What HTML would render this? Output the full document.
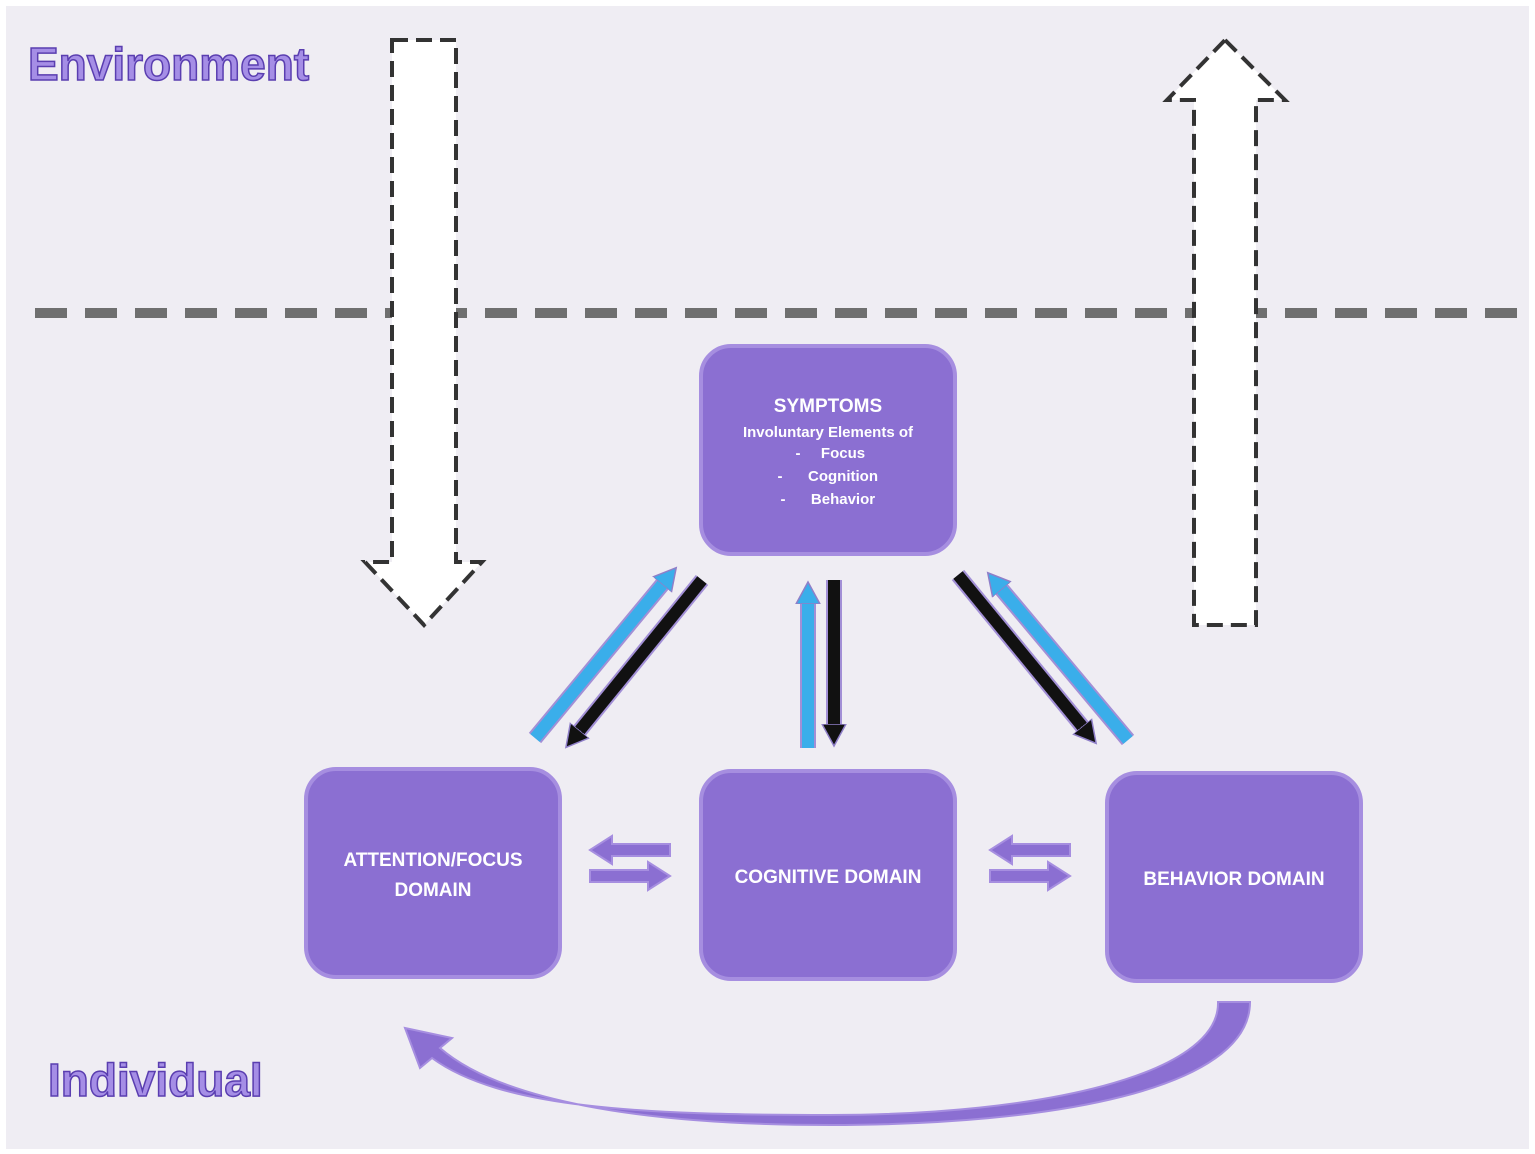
<!DOCTYPE html>
<html><head><style>
body{margin:0;width:1535px;height:1154px;background:#fff;overflow:hidden}
svg{display:block}
</style></head><body>
<svg width="1535" height="1154" viewBox="0 0 1535 1154" xmlns="http://www.w3.org/2000/svg" font-family="Liberation Sans, sans-serif">
<defs>
<marker id="hb" markerUnits="userSpaceOnUse" markerWidth="30" markerHeight="30" refX="6" refY="15" orient="auto"><path d="M0,3 L22,15 L0,27 z" fill="#3aaeea" stroke="#8f7fc8" stroke-width="1.5"/></marker>
<marker id="hk" markerUnits="userSpaceOnUse" markerWidth="30" markerHeight="30" refX="6" refY="15" orient="auto"><path d="M0,3 L22,15 L0,27 z" fill="#111" stroke="#8f7fc8" stroke-width="1.5"/></marker>
</defs>
<rect x="6" y="6" width="1523" height="1143" fill="#efedf3"/>
<text x="28" y="80" font-size="46" font-weight="bold" fill="#a58ee6" stroke="#5a3eb0" stroke-width="1.5">Environment</text>
<text x="48" y="1096" font-size="46" font-weight="bold" fill="#a58ee6" stroke="#5a3eb0" stroke-width="1.5">Individual</text>
<line x1="35" y1="313" x2="1530" y2="313" stroke="#6f6f6f" stroke-width="10" stroke-dasharray="32,18"/>
<path d="M392,40 L456,40 L456,562 L482,562 L424,625 L365,562 L392,562 Z" fill="#fff" stroke="#333" stroke-width="4" stroke-dasharray="16,8"/>
<path d="M1225,40 L1285,100 L1256,100 L1256,625 L1194,625 L1194,100 L1167,100 Z" fill="#fff" stroke="#333" stroke-width="4" stroke-dasharray="16,8"/>
<g fill="#8b6fd2" stroke="#a68ee0" stroke-width="4">
<rect x="701" y="346" width="254" height="208" rx="30"/>
<rect x="306" y="769" width="254" height="208" rx="30"/>
<rect x="701" y="771" width="254" height="208" rx="30"/>
<rect x="1107" y="773" width="254" height="208" rx="30"/>
</g>
<g fill="#fff" text-anchor="middle" font-weight="bold">
<text x="828" y="412" font-size="19">SYMPTOMS</text>
<text x="828" y="437" font-size="15">Involuntary Elements of</text>
<text x="798" y="458" font-size="15">-</text><text x="843" y="458" font-size="15">Focus</text>
<text x="780" y="481" font-size="15">-</text><text x="843" y="481" font-size="15">Cognition</text>
<text x="783" y="504" font-size="15">-</text><text x="843" y="504" font-size="15">Behavior</text>
<text x="433" y="866" font-size="19">ATTENTION/FOCUS</text>
<text x="433" y="896" font-size="19">DOMAIN</text>
<text x="828" y="883" font-size="19">COGNITIVE DOMAIN</text>
<text x="1234" y="885" font-size="19">BEHAVIOR DOMAIN</text>
</g>
<g stroke-width="12">
<g stroke="#a28fd6" stroke-width="16">
<line x1="535" y1="738" x2="666" y2="580"/>
<line x1="702" y1="580" x2="576" y2="735"/>
<line x1="808" y1="748" x2="808" y2="598"/>
<line x1="834" y1="580" x2="834" y2="730"/>
<line x1="958" y1="575" x2="1086" y2="731"/>
<line x1="1128" y1="740" x2="998" y2="585"/>
</g>
<line x1="535" y1="738" x2="666" y2="580" stroke="#3aaeea" marker-end="url(#hb)"/>
<line x1="702" y1="580" x2="576" y2="735" stroke="#111" marker-end="url(#hk)"/>
<line x1="808" y1="748" x2="808" y2="598" stroke="#3aaeea" marker-end="url(#hb)"/>
<line x1="834" y1="580" x2="834" y2="730" stroke="#111" marker-end="url(#hk)"/>
<line x1="958" y1="575" x2="1086" y2="731" stroke="#111" marker-end="url(#hk)"/>
<line x1="1128" y1="740" x2="998" y2="585" stroke="#3aaeea" marker-end="url(#hb)"/>
</g>
<g fill="#8b6fd2" stroke="#a68ee0" stroke-width="2">
<path d="M670,844 L612,844 L612,836 L590,850 L612,864 L612,856 L670,856 Z"/>
<path d="M590,870 L648,870 L648,862 L670,876 L648,890 L648,882 L590,882 Z"/>
<path d="M1070,844 L1012,844 L1012,836 L990,850 L1012,864 L1012,856 L1070,856 Z"/>
<path d="M990,870 L1048,870 L1048,862 L1070,876 L1048,890 L1048,882 L990,882 Z"/>
</g>
<path d="M1250,1002 C1250,1090 1050,1125 830,1125 C640,1125 500,1100 440,1048 L452,1038 L405,1028 L420,1068 L432,1058 C500,1108 640,1115 830,1115 C1040,1115 1220,1075 1218,1002 Z" fill="#8b6fd2" stroke="#a68ee0" stroke-width="2"/>
</svg>
</body></html>
